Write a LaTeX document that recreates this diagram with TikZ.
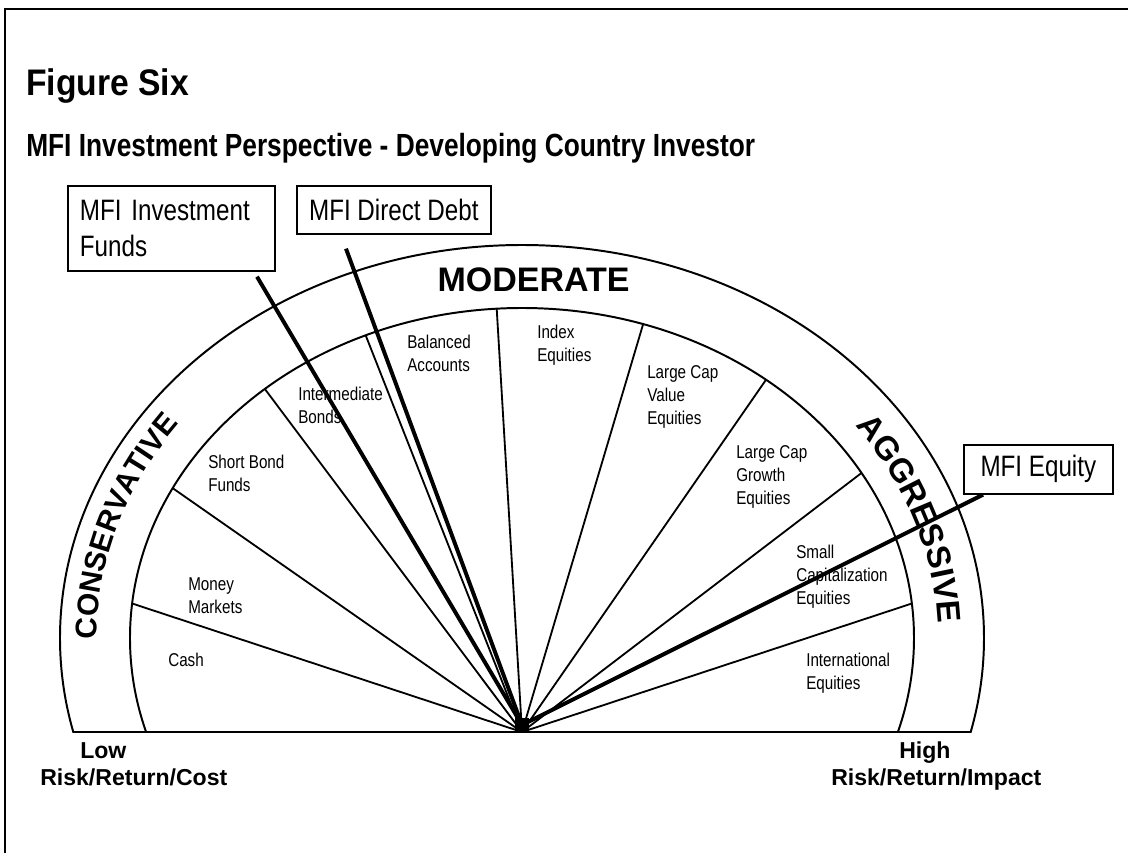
\documentclass[tikz,border=0pt]{standalone}
\usepackage{fontspec}
\setmainfont{Liberation Sans}
\newfontfamily\narrowfont{Liberation Sans}[FakeStretch=0.82]
\newfontfamily\titlefont{Liberation Sans}[FakeStretch=0.91]
\usetikzlibrary{decorations.text}

\newcommand{\conslblfont}{\fontsize{21.3}{21.3}\selectfont\bfseries}
\newcommand{\aggrlblfont}{\fontsize{23.5}{23.5}\selectfont\bfseries}

\begin{document}
\begin{tikzpicture}[
    arcline/.style={line width=1.4pt},
    spoke/.style={line width=1.3pt},
    pointer/.style={line width=2.8pt},
    seclbl/.style={font=\narrowfont\fontsize{13.2}{16.4}\selectfont, align=left, inner sep=0pt, anchor=north west},
    mfibox/.style={draw, line width=1.2pt, font=\narrowfont\fontsize{21}{25.6}\selectfont, align=left, anchor=north west, inner xsep=0.3cm, inner ysep=0pt},
    endlbl/.style={font=\fontsize{16.4}{16.4}\selectfont\bfseries, inner sep=0pt, anchor=base west}
  ]

        \useasboundingbox (-13.05,-3.0) rectangle (15.15,18.3);

        % Frame (top and left edges)
        \draw[line width=2pt] (-12.925,-3.2) -- (-12.925,18.075) -- (15.4,18.075);

        % Titles
        \node[font=\titlefont\bfseries\fontsize{26.3}{26.3}\selectfont, anchor=base west, inner sep=0pt] (title) at (-12.4,15.9) {Figure Six};
        \node[font=\narrowfont\bfseries\fontsize{22.8}{22.8}\selectfont, anchor=base west, inner sep=0pt] (subtitle) at (-12.4,14.375) {MFI Investment Perspective - Developing Country Investor};

        % The dial: outer and inner arcs, cut at the base line
        \begin{scope}
          \clip (-12.5,0) rectangle (12.5,12.5);
          \draw[arcline] (0,2.35) ellipse [x radius=11.55, y radius=9.825];
          \draw[arcline] (0,2.35) ellipse [x radius=9.8, y radius=8.25];
        \end{scope}
        \draw[arcline] (-11.22,0) -- (11.22,0);

        % Sector lines
        \coordinate (O) at (0,0);
        \foreach \t in {6,30,51.5,72,93.7,113.5,131,153,174} {
          \draw[spoke] (O) -- ([shift={(0,2.35)}]\t:9.8 and 8.25);
        }

        % Sector labels
        \node[seclbl] (cash) at (-8.85,1.975) {Cash};
        \node[seclbl] (money) at (-8.35,3.875) {Money\\Markets};
        \node[seclbl] (shortbond) at (-7.85,6.925) {Short Bond\\Funds};
        \node[seclbl] (interm) at (-5.6,8.625) {Intermediate\\Bonds};
        \node[seclbl] (balanced) at (-2.875,9.925) {Balanced\\Accounts};
        \node[seclbl] (index) at (0.375,10.175) {Index\\Equities};
        \node[seclbl] (lcvalue) at (3.125,9.175) {Large Cap\\Value\\Equities};
        \node[seclbl] (lcgrowth) at (5.35,7.175) {Large Cap\\Growth\\Equities};
        \node[seclbl] (smallcap) at (6.85,4.675) {Small\\Capitalization\\Equities};
        \node[seclbl] (intl) at (7.1,1.975) {International\\Equities};

        % Band labels
        \path[decorate, decoration={text along path, text align=center, text={|\conslblfont|CONSERVATIVE}}]
          ([shift={(0,2.35)}]195:10.63 and 9.04) arc[start angle=195, end angle=130, x radius=10.63, y radius=9.04];
        \path[decorate, decoration={text along path, text align=center, text={|\aggrlblfont|AGGRESSIVE}}]
          ([shift={(0,2.35)}]50:10.4 and 8.84) arc[start angle=50, end angle=-12, x radius=10.4, y radius=8.84];
        \node[font=\fontsize{24.2}{24.2}\selectfont\bfseries, anchor=base] (moderate) at (0.29,11.0) {MODERATE};

        % Hub
        \node[fill, minimum size=0.35cm, inner sep=0pt] (hub) at (0,0.175) {};

        % MFI boxes and pointers
        \node[mfibox, text width=4.575cm, minimum height=2.125cm] (funds) at (-11.375,13.675) {MFI Investment\\Funds};
        \node[mfibox, minimum width=4.85cm, minimum height=1.2cm] (debt) at (-5.65,13.675) {MFI Direct Debt};
        \node[mfibox, minimum width=3.725cm, minimum height=1.225cm] (equity) at (11.025,7.2) {MFI Equity};

        \draw[pointer] ([shift={(4.75,-0.125)}]funds.south west) -- (hub.center);
        \draw[pointer] ([shift={(1.25,-0.35)}]debt.south west) -- (hub.center);
        \draw[pointer] ([shift={(0.5,0)}]equity.south west) -- (hub.center);

        % End labels
        \node[endlbl] (lowlbl) at (-11.05,-0.66) {Low};
        \node[endlbl] (lowrisk) at (-12.05,-1.325) {Risk/Return/Cost};
        \node[endlbl] (highlbl) at (9.425,-0.66) {High};
        \node[endlbl] (highrisk) at (7.725,-1.325) {Risk/Return/Impact};

      \end{tikzpicture}
\end{document}
